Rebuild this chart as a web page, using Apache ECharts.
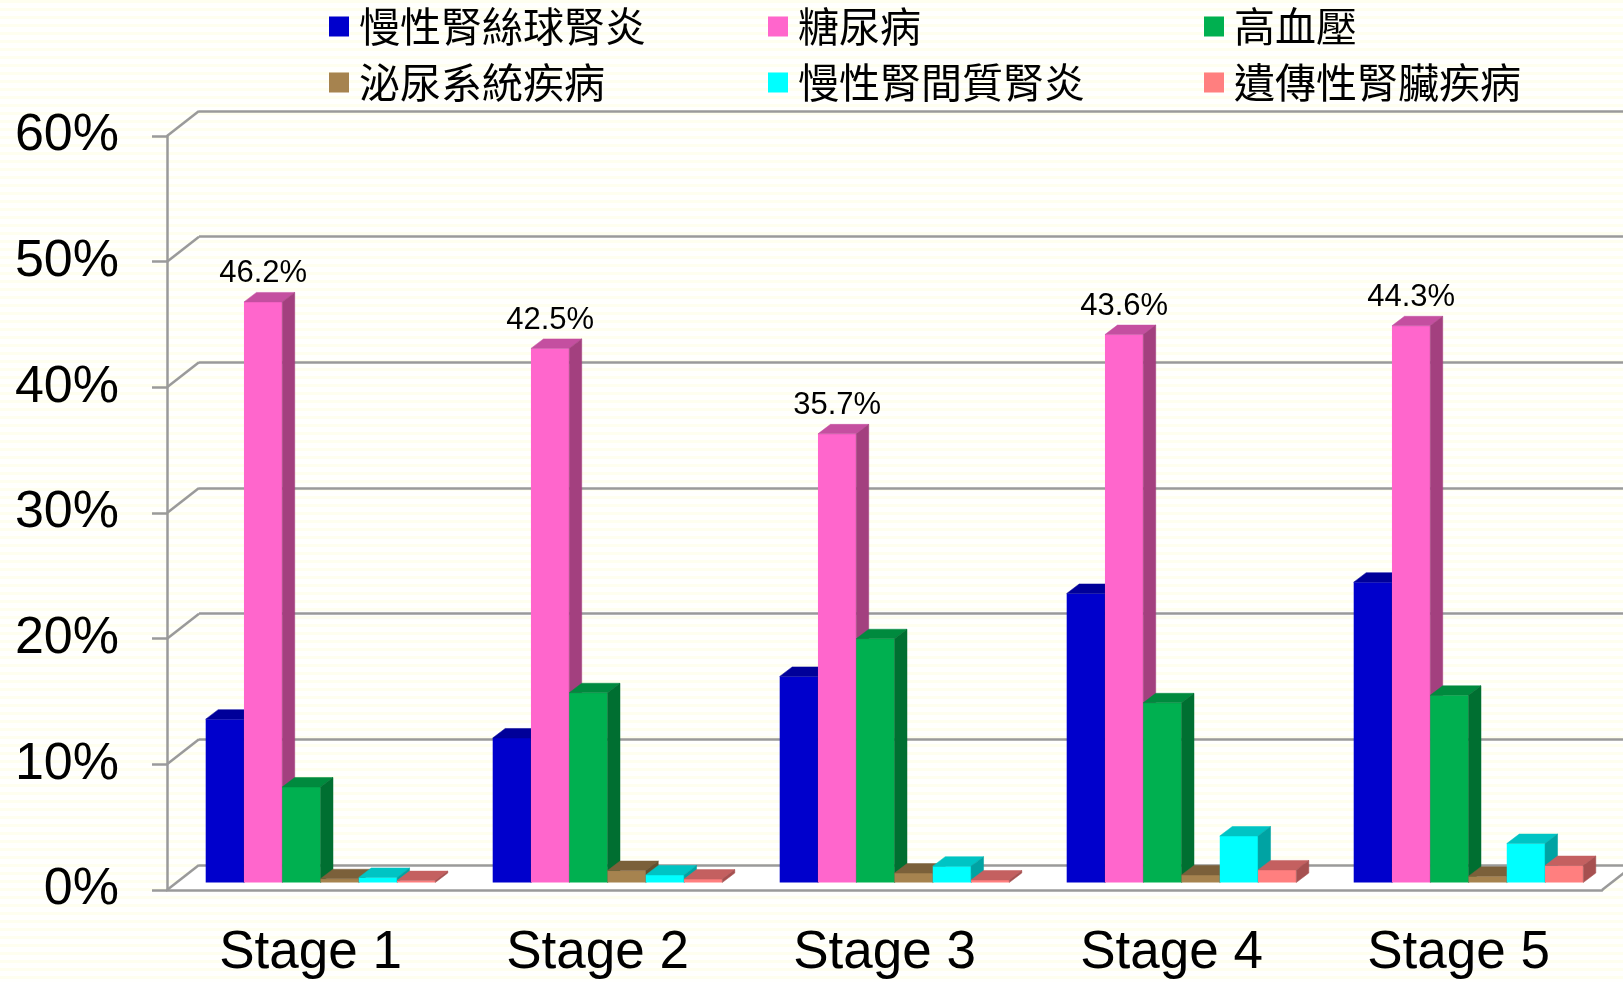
<!DOCTYPE html>
<html>
<head>
<meta charset="utf-8">
<script src="https://cdn.jsdelivr.net/npm/echarts@6/dist/echarts.min.js"></script>
<style>
  html, body { margin: 0; padding: 0; background: #fffffd; }
  #kidneyChart { width: 1623px; height: 982px; }
</style>
</head>
<body>
<div id="kidneyChart"></div>
<script>
// 各期別病因比例
const stages = ['Stage 1', 'Stage 2', 'Stage 3', 'Stage 4', 'Stage 5']
const seriesNames = ['慢性腎絲球腎炎', '糖尿病', '高血壓', '泌尿系統疾病', '慢性腎間質腎炎', '遺傳性腎臟疾病']
const glomerulo = [13.0, 11.5, 16.4, 23.0, 23.9]
const diabetes = [46.2, 42.5, 35.7, 43.6, 44.3]
const hypertension = [7.6, 15.1, 19.4, 14.3, 14.9]
const urinary = [0.3, 0.95, 0.75, 0.6, 0.5]
const interstitial = [0.4, 0.6, 1.3, 3.7, 3.1]
const hereditary = [0.15, 0.27, 0.2, 1.0, 1.35]
const yTicks = [0, 10, 20, 30, 40, 50, 60]

const seriesValues = [glomerulo, diabetes, hypertension, urinary, interstitial, hereditary]
// front / top / side
const colors = [
  ['#0000cc', '#000099', '#00007a'],
  ['#ff66cc', '#c44fa0', '#a3407f'],
  ['#00b050', '#008a3e', '#006f31'],
  ['#a6834f', '#7b603a', '#65502f'],
  ['#00ffff', '#00c4c4', '#00a3a3'],
  ['#ff7f7f', '#c46060', '#a65050']
]

// 3D 偏移
const FRONT = { left: 167, top: 136, width: 1435, height: 754 }
const DX = 32
const DY = -25
const BAR_OFF = [10, -7.5]
const BAR_DEPTH = [12.5, -9.5]
const GAP = 0.2
const GRID_COLOR = '#9a9a9a'

// 背景條紋
const stripe = document.createElement('canvas')
stripe.width = 4
stripe.height = 8
const sctx = stripe.getContext('2d')
sctx.fillStyle = '#fffffd'
sctx.fillRect(0, 0, 4, 8)
sctx.fillStyle = '#fefeef'
sctx.fillRect(0, 0, 4, 3)

const chart = echarts.init(document.getElementById('kidneyChart'))

function barRender(si) {
  return function(params, api) {
    const cat = api.value(0)
    const val = api.value(1)
    const band = api.size([1, 0])[0]
    const groupW = band * (1 - GAP)
    const bw = groupW / seriesNames.length
    const base = api.coord([cat, 0])
    const top = api.coord([cat, val])
    const x0 = base[0] - groupW / 2 + si * bw + BAR_OFF[0]
    const x1 = x0 + bw
    const yb = base[1] + BAR_OFF[1]
    const yt = top[1] + BAR_OFF[1]
    const c = colors[si]
    const children = [
      { type: 'rect', shape: { x: x0, y: yt, width: bw, height: yb - yt }, style: { fill: c[0] } },
      {
        type: 'polygon',
        shape: { points: [[x0, yt], [x1, yt], [x1 + BAR_DEPTH[0], yt + BAR_DEPTH[1]], [x0 + BAR_DEPTH[0], yt + BAR_DEPTH[1]]] },
        style: { fill: c[1], stroke: c[1], lineWidth: 0.5 }
      },
      {
        type: 'polygon',
        shape: { points: [[x1, yt], [x1, yb], [x1 + BAR_DEPTH[0], yb + BAR_DEPTH[1]], [x1 + BAR_DEPTH[0], yt + BAR_DEPTH[1]]] },
        style: { fill: c[2], stroke: c[2], lineWidth: 0.5 }
      }
    ]
    if (si === 1) {
      children.push({
        type: 'text',
        style: {
          text: val.toFixed(1) + '%',
          x: x0 + bw / 2,
          y: yt + BAR_DEPTH[1] - 3,
          align: 'center',
          verticalAlign: 'bottom',
          font: '31px "Liberation Sans Narrow", "Arial Narrow", "Liberation Sans", sans-serif',
          fill: '#000'
        }
      })
    }
    return { type: 'group', children: children }
  }
}

const barSeries = seriesNames.map((name, si) => ({
  name: name,
  type: 'custom',
  xAxisIndex: 0,
  yAxisIndex: 0,
  itemStyle: { color: colors[si][0] },
  encode: { x: 0, y: 1 },
  data: seriesValues[si].map((v, i) => [i, v]),
  renderItem: barRender(si)
}))

const legendBase = {
  orient: 'vertical',
  top: 6,
  padding: 0,
  itemGap: 15,
  itemWidth: 20,
  itemHeight: 20,
  icon: 'rect',
  selectedMode: false,
  textStyle: {
    fontFamily: '"Noto Sans CJK TC", "Noto Sans CJK SC", sans-serif',
    fontSize: 41,
    color: '#000',
    padding: [0, 0, 0, 5]
  }
}

const option = {
  backgroundColor: { image: stripe, repeat: 'repeat' },
  animation: false,
  legend: [
    Object.assign({}, legendBase, { left: 329, data: [seriesNames[0], seriesNames[3]] }),
    Object.assign({}, legendBase, { left: 768, data: [seriesNames[1], seriesNames[4]] }),
    Object.assign({}, legendBase, { left: 1204, data: [seriesNames[2], seriesNames[5]] })
  ],
  grid: [
    { left: FRONT.left, top: FRONT.top, width: FRONT.width, height: FRONT.height },
    { left: FRONT.left + DX, top: FRONT.top + DY, width: FRONT.width, height: FRONT.height }
  ],
  xAxis: [
    {
      type: 'category',
      gridIndex: 0,
      data: stages,
      axisLine: { lineStyle: { color: GRID_COLOR, width: 2.5 } },
      axisTick: { length: 16, lineStyle: { color: GRID_COLOR, width: 2.5 } },
      axisLabel: {
        margin: 37,
        fontSize: 53,
        color: '#000',
        fontFamily: '"Liberation Sans", Arial, sans-serif'
      }
    },
    { type: 'category', gridIndex: 1, data: stages, show: false }
  ],
  yAxis: [
    {
      type: 'value',
      gridIndex: 0,
      min: 0,
      max: 60,
      interval: 10,
      axisLine: { show: true, lineStyle: { color: GRID_COLOR, width: 2.5 } },
      axisTick: { show: true, length: 15, lineStyle: { color: GRID_COLOR, width: 2.5 } },
      splitLine: { show: false },
      axisLabel: {
        margin: 48,
        fontSize: 52,
        color: '#000',
        fontFamily: '"Liberation Sans", Arial, sans-serif',
        formatter: '{value}%'
      }
    },
    {
      type: 'value',
      gridIndex: 1,
      min: 0,
      max: 60,
      interval: 10,
      axisLine: { show: false },
      axisTick: { show: false },
      axisLabel: { show: false },
      splitLine: { show: true, lineStyle: { color: GRID_COLOR, width: 2.5 } }
    }
  ],
  series: [
    {
      // 底板
      type: 'custom',
      z: -1,
      silent: true,
      xAxisIndex: 0,
      yAxisIndex: 0,
      data: [[0, 0]],
      renderItem: function(params, api) {
        const cs = params.coordSys
        const y0 = api.coord([0, 0])[1]
        const l = cs.x
        const r = cs.x + cs.width
        return {
          type: 'group',
          children: [
            {
              type: 'polygon',
              shape: { points: [[l, y0], [r, y0], [r + DX, y0 + DY], [l + DX, y0 + DY]] },
              style: { fill: '#ffffff' }
            },
            {
              type: 'line',
              shape: { x1: r, y1: y0, x2: r + DX, y2: y0 + DY },
              style: { stroke: GRID_COLOR, lineWidth: 2.5 }
            }
          ]
        }
      }
    },
    {
      // 左牆斜線
      type: 'custom',
      silent: true,
      xAxisIndex: 0,
      yAxisIndex: 0,
      data: yTicks.map(v => [0, v]),
      renderItem: function(params, api) {
        const l = params.coordSys.x
        const y = api.coord([0, api.value(1)])[1]
        return {
          type: 'line',
          shape: { x1: l, y1: y, x2: l + DX, y2: y + DY },
          style: { stroke: GRID_COLOR, lineWidth: 2.5 }
        }
      }
    }
  ].concat(barSeries)
}

chart.setOption(option)
</script>
</body>
</html>
